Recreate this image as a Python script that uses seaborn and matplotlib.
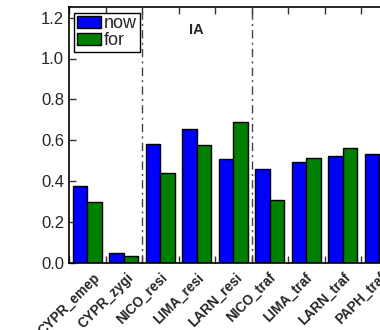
import matplotlib
matplotlib.use("Agg")
import matplotlib.pyplot as plt
import seaborn as sns
import pandas as pd
import numpy as np

categories = ["CYPR_emep", "CYPR_zygi", "NICO_resi", "LIMA_resi", "LARN_resi",
              "NICO_traf", "LIMA_traf", "LARN_traf", "PAPH_traf"]
now_vals = [0.377, 0.049, 0.582, 0.657, 0.509, 0.460, 0.497, 0.523, 0.533]
for_vals = [0.297, 0.036, 0.442, 0.580, 0.691, 0.309, 0.515, 0.564, 0.504]
series = ["now", "for"]
colors = ["#0000ff", "#008000"]
yticks = [0.0, 0.2, 0.4, 0.6, 0.8, 1.0, 1.2]
ytick_labels = ["0.0", "0.2", "0.4", "0.6", "0.8", "1.0", "1.2"]
panel_label = "IA"
divider_after = [2, 5]

sns.set_theme(style="white")
plt.rcParams['font.family'] = ['Liberation Sans', 'DejaVu Sans']

df = pd.DataFrame({
    "site": categories * 2,
    "value": now_vals + for_vals,
    "series": ["now"] * len(categories) + ["for"] * len(categories),
})

fig = plt.figure(figsize=(3.8, 3.3), dpi=100)
n_units = 10
ax = fig.add_axes([69 / 380, (330 - 263.3) / 330, n_units * 36.5 / 380, 256 / 330])

sns.barplot(data=df, x="site", y="value", hue="series", hue_order=series,
            palette=colors, saturation=1, width=0.8, edgecolor="black",
            linewidth=1.0, ax=ax, errorbar=None)

ax.set_xlim(-0.5, n_units - 0.5)
ax.set_ylim(0, 1.25)
pos = np.arange(len(categories)) - 0.5
ax.set_xticks(pos)
ax.set_xticklabels(categories, rotation=45, ha="center", fontsize=9.8,
                   fontweight="bold")
ax.set_yticks(yticks)
ax.set_yticklabels(ytick_labels, fontsize=12)
ax.set_xlabel("")
ax.set_ylabel("")

for d in divider_after:
    ax.axvline(d - 0.5, color="#444444", linestyle=(0, (6, 3, 1.5, 3)), linewidth=1.0)

ax.text(3.0, 1.14, panel_label, fontsize=10.5, fontweight="bold",
        ha="center", va="center")

ax.tick_params(axis="both", direction="in", length=5, width=1, color="#333333",
               top=True, bottom=True, left=True, right=False)
ax.tick_params(axis="x", pad=5)
for s in ax.spines.values():
    s.set_color("black")
    s.set_linewidth(1.2)

ax.legend(loc="upper left", fontsize=13, frameon=True, fancybox=False,
          edgecolor="black", framealpha=1, borderpad=0.15, labelspacing=0.0,
          handlelength=1.3, handleheight=0.6, handletextpad=0.2,
          borderaxespad=0.3)
ax.get_legend().get_frame().set_linewidth(1.0)

fig.savefig("out.png", dpi=100)
